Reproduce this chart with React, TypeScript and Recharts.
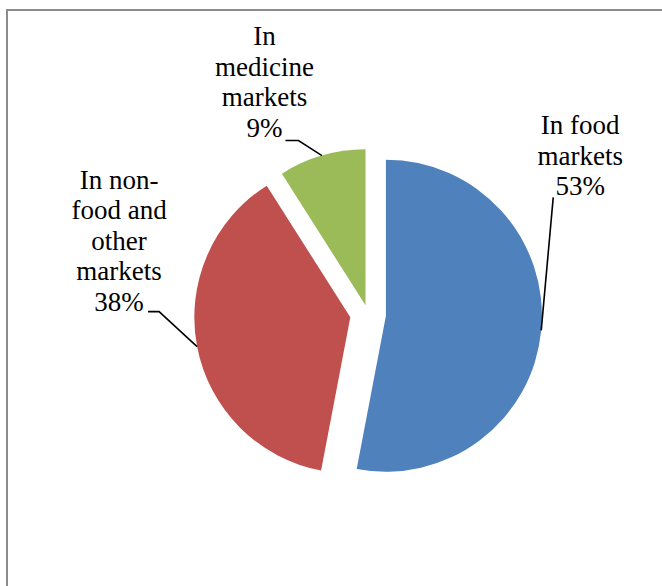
import React from "react";
import { PieChart, Pie, Cell, Sector } from "recharts";

const categories = ["In food markets", "In non-food and other markets", "In medicine markets"];
const shares = [53, 38, 9];
const labelLines = [
  ["In food", "markets"],
  ["In non-", "food and", "other", "markets"],
  ["In", "medicine", "markets"],
];
const colors = ["#4F81BD", "#C0504D", "#9BBB59"];
const explode = [18, 18, 9];

const data = categories.map((name, i) => ({ name, value: shares[i] }));

const RAD = Math.PI / 180;
const W = 662;
const H = 586;
const CX = 368;
const CY = 314;
const R = 156;
const FONT =
  "'Liberation Serif', 'Times New Roman', Times, Tinos, 'Nimbus Roman', 'Nimbus Roman No9 L', FreeSerif, 'Noto Serif', 'DejaVu Serif', serif";
const FONT_SIZE = 27;
const LINE_H = 30.5;

// leader-line / text layout, offsets relative to the slice's outer arc midpoint
const layout = [
  { bend: [12, -133], end: [0, 0], textDx: 27, lastDy: -2 },
  { bend: [-38, -35], end: [-11, 0], textDx: -29, lastDy: -1 },
  { bend: [-23.5, -15], end: [-13, 0], textDx: -21, lastDy: -4 },
];

const sliceIndex = (p: any) => {
  const n = p?.name ?? p?.payload?.name;
  const i = categories.indexOf(n);
  return i >= 0 ? i : p?.index ?? 0;
};

const ExplodedSector = (props: any) => {
  const i = sliceIndex(props);
  const d = explode[i] ?? 0;
  const c = Math.cos(props.midAngle * RAD);
  const s = Math.sin(props.midAngle * RAD);
  return (
    <Sector
      cx={props.cx + d * c}
      cy={props.cy - d * s}
      innerRadius={props.innerRadius}
      outerRadius={props.outerRadius}
      startAngle={props.startAngle}
      endAngle={props.endAngle}
      fill={props.fill}
      stroke="none"
    />
  );
};

const renderLabel = (p: any) => {
  const i = typeof p.index === "number" ? p.index : sliceIndex(p);
  const d = explode[i] ?? 0;
  const c = Math.cos(p.midAngle * RAD);
  const s = Math.sin(p.midAngle * RAD);
  const ax = p.cx + d * c;
  const ay = p.cy - d * s;
  const px = ax + p.outerRadius * c;
  const py = ay - p.outerRadius * s;
  const L = layout[i];
  const bx = px + L.bend[0];
  const by = py + L.bend[1];
  const ex = bx + L.end[0];
  const ey = by + L.end[1];
  const lines = [...labelLines[i], `${Math.round(p.percent * 100)}%`];
  const n = lines.length;
  const tx = ex + L.textDx;
  const lastY = ey + L.lastDy;
  return (
    <g key={`lbl-${i}`}>
      <polyline
        points={`${px},${py} ${bx},${by} ${ex},${ey}`}
        fill="none"
        stroke="#000"
        strokeWidth={1.6}
      />
      <text
        x={tx}
        y={lastY}
        textAnchor="middle"
        fontFamily={FONT}
        style={{ fontFamily: FONT, fontSize: FONT_SIZE }}
        fill="#000"
      >
        {lines.map((t, k) => (
          <tspan key={k} x={tx} y={lastY - (n - 1 - k) * LINE_H}>
            {t}
          </tspan>
        ))}
      </text>
    </g>
  );
};

export default function App() {
  return (
    <div style={{ position: "relative", width: W, height: H, overflow: "hidden", background: "#fff", fontFamily: FONT }}>
      <style>{"body{margin:0;}"}</style>
      <div
        style={{
          position: "absolute",
          left: 6,
          top: 9,
          width: 900,
          height: 900,
          border: "2px solid #8c8c8c",
          boxSizing: "border-box",
        }}
      />
      <div style={{ position: "absolute", left: 0, top: 0 }}>
        <PieChart width={W} height={H} margin={{ top: 0, right: 0, bottom: 0, left: 0 }}>
          <Pie
            data={data}
            dataKey="value"
            nameKey="name"
            cx={CX}
            cy={CY}
            outerRadius={R}
            startAngle={90}
            endAngle={-270}
            stroke="none"
            isAnimationActive={false}
            labelLine={false}
            label={renderLabel}
            shape={ExplodedSector}
            activeShape={ExplodedSector}
            inactiveShape={ExplodedSector}
          >
            {data.map((e, i) => (
              <Cell key={e.name} fill={colors[i]} />
            ))}
          </Pie>
        </PieChart>
      </div>
    </div>
  );
}
